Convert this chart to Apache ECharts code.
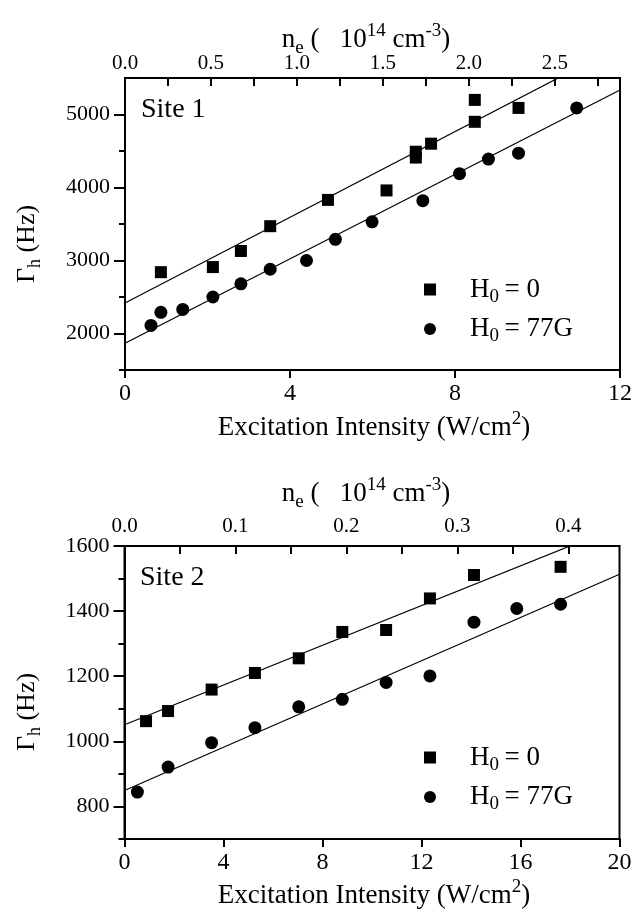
<!DOCTYPE html>
<html><head><meta charset="utf-8">
<script src="https://cdn.jsdelivr.net/npm/echarts@6/dist/echarts.min.js"></script>
<style>html,body{margin:0;padding:0;background:#fff}#c{width:639px;height:912px}</style>
</head><body><div id="c"></div>
<script>
// ---------- Site 1 data (x: excitation intensity W/cm^2, y: Gamma_h Hz) ----------
const s1SquareX = [0.87, 2.13, 2.81, 3.52, 4.92, 6.34, 7.05, 7.05, 7.42, 8.48, 8.48, 9.54];
const s1SquareY = [2840, 2910, 3130, 3470, 3830, 3960, 4490, 4410, 4600, 5200, 4900, 5090];
const s1CircleX = [0.63, 0.87, 1.40, 2.13, 2.81, 3.52, 4.40, 5.10, 5.99, 7.22, 8.11, 8.81, 9.54, 10.95];
const s1CircleY = [2110, 2290, 2330, 2500, 2680, 2880, 3000, 3290, 3530, 3820, 4190, 4390, 4470, 5090];
const s1FitX = [0, 12];
const s1FitSquare = [2417, 5940];
const s1FitCircle = [1867, 5336];

// ---------- Site 2 data ----------
const s2SquareX = [0.87, 1.76, 3.52, 5.27, 7.04, 8.80, 10.57, 12.34, 14.12, 17.62];
const s2SquareY = [1062, 1093, 1159, 1210, 1255, 1336, 1342, 1439, 1511, 1536];
const s2CircleX = [0.52, 1.76, 3.52, 5.27, 7.04, 8.80, 10.57, 12.34, 14.12, 15.85, 17.62];
const s2CircleY = [844, 921, 996, 1042, 1106, 1129, 1181, 1201, 1366, 1408, 1421];
const s2FitX = [0, 20];
const s2FitSquare = [1051, 1661];
const s2FitCircle = [849, 1513];

// ---------- series names ----------
const seriesNames = ['H0 = 0', 'H0 = 77G'];
const siteNames = ['Site 1', 'Site 2'];

// ---------- axis ranges & tick labels ----------
const s1XRange = [0, 12];
const s1XLabels = [0, 4, 8, 12];
const s1YRange = [1500, 5500];
const s1YLabels = [2000, 3000, 4000, 5000];
const s1YMinor = [1500, 2500, 3500, 4500];
const s1TopRange = [0, 2.878];
const s1TopLabels = [0, 0.5, 1.0, 1.5, 2.0, 2.5];
const s1TopTicks = [0, 0.25, 0.5, 0.75, 1.0, 1.25, 1.5, 1.75, 2.0, 2.25, 2.5, 2.75];

const s2XRange = [0, 20];
const s2XLabels = [0, 4, 8, 12, 16, 20];
const s2YRange = [700, 1600];
const s2YLabels = [800, 1000, 1200, 1400, 1600];
const s2YMinor = [700, 900, 1100, 1300, 1500];
const s2TopRange = [0, 0.446];
const s2TopLabels = [0, 0.1, 0.2, 0.3, 0.4];
const s2TopTicks = [0, 0.05, 0.1, 0.15, 0.2, 0.25, 0.3, 0.35, 0.4];

const FONT = "'Liberation Serif', 'Times New Roman', serif";
const zip = (xs, ys) => xs.map((x, i) => [x, ys[i]]);

const chart = echarts.init(document.getElementById('c'), null, {renderer: 'canvas'});

const grids = [
  {left: 125, right: 19, top: 78, height: 292},
  {left: 124.5, right: 19.5, top: 546, height: 293}
];

function bottomAxis(gi, range, labels) {
  return {
    gridIndex: gi, type: 'value', position: 'bottom', min: range[0], max: range[1],
    axisLine: {show: true, onZero: false, lineStyle: {color: '#000', width: 2}},
    axisTick: {show: true, inside: false, length: 8, customValues: labels, lineStyle: {color: '#000', width: 2}},
    axisLabel: {customValues: labels, margin: 12, color: '#000', fontFamily: FONT, fontSize: 24,
      formatter: v => String(v)},
    splitLine: {show: false}
  };
}
function topAxis(gi, range, labels, ticks, margin) {
  return {
    gridIndex: gi, type: 'value', position: 'top', min: range[0], max: range[1],
    axisLine: {show: true, onZero: false, lineStyle: {color: '#000', width: 2}},
    axisTick: {show: true, inside: true, length: 8, customValues: ticks, lineStyle: {color: '#000', width: 2}},
    axisLabel: {customValues: labels, margin: margin, color: '#000', fontFamily: FONT, fontSize: 21,
      formatter: v => v.toFixed(1)},
    splitLine: {show: false}
  };
}
function leftAxisMajor(gi, range, labels) {
  return {
    gridIndex: gi, type: 'value', position: 'left', min: range[0], max: range[1],
    axisLine: {show: true, onZero: false, lineStyle: {color: '#000', width: 2}},
    axisTick: {show: true, inside: false, length: 11, customValues: labels, lineStyle: {color: '#000', width: 2}},
    axisLabel: {customValues: labels, margin: 15, color: '#000', fontFamily: FONT, fontSize: 22,
      formatter: v => String(v)},
    splitLine: {show: false}
  };
}
function leftAxisMinor(gi, range, minor) {
  return {
    gridIndex: gi, type: 'value', position: 'left', min: range[0], max: range[1],
    axisLine: {show: false},
    axisTick: {show: true, inside: false, length: 6, customValues: minor, lineStyle: {color: '#000', width: 2}},
    axisLabel: {show: false},
    splitLine: {show: false}
  };
}

const rich = {
  a: {fontFamily: FONT, fontSize: 27, color: '#000', lineHeight: 34, verticalAlign: 'middle'},
  s: {fontFamily: FONT, fontSize: 19, color: '#000', lineHeight: 34, verticalAlign: 'bottom'}
};
function legendFmt(name) {
  return name === seriesNames[0] ? '{a|H}{s|0}{a|\u2009= 0}' : '{a|H}{s|0}{a|\u2009= 77G}';
}

function scatter(name, xi, yi, xs, ys, sym, size) {
  return {name, type: 'scatter', xAxisIndex: xi, yAxisIndex: yi, data: zip(xs, ys),
    symbol: sym, symbolSize: size, itemStyle: {color: '#000', opacity: 1}, z: 3};
}
function fit(xi, yi, xs, ys) {
  return {type: 'line', xAxisIndex: xi, yAxisIndex: yi, data: zip(xs, ys), symbol: 'none',
    lineStyle: {color: '#000', width: 1.2}, clip: true, silent: true, z: 2};
}

function richTitle(x, y, text, r, rot) {
  return {type: 'text', x, y, rotation: rot || 0,
    style: {text, rich: r, align: 'center', verticalAlign: 'middle', fill: '#000'}};
}
const tRich = {
  b: {fontFamily: FONT, fontSize: 27, color: '#000', lineHeight: 36},
  sub: {fontFamily: FONT, fontSize: 19, color: '#000', lineHeight: 36, verticalAlign: 'bottom'},
  sup: {fontFamily: FONT, fontSize: 19, color: '#000', lineHeight: 36, verticalAlign: 'top'}
};
const yRich = {
  b: {fontFamily: FONT, fontSize: 26, color: '#000', lineHeight: 34},
  sub: {fontFamily: FONT, fontSize: 18, color: '#000', lineHeight: 34, verticalAlign: 'bottom'}
};
const neText = '{b|n}{sub|e}{b| (   10}{sup|14}{b| cm}{sup|-3}{b|)}';
const xText = '{b|Excitation Intensity (W/cm}{sup|2}{b|)}';
const yText = '{b|\u0393}{sub|h}{b| (Hz)}';

const option = {
  backgroundColor: '#fff',
  animation: false,
  grid: grids.map(g => Object.assign({show: true, borderColor: '#000', borderWidth: 2, containLabel: false}, g)),
  xAxis: [
    bottomAxis(0, s1XRange, s1XLabels),
    topAxis(0, s1TopRange, s1TopLabels, s1TopTicks, 4),
    bottomAxis(1, s2XRange, s2XLabels),
    topAxis(1, s2TopRange, s2TopLabels, s2TopTicks, 9)
  ],
  yAxis: [
    leftAxisMajor(0, s1YRange, s1YLabels),
    leftAxisMinor(0, s1YRange, s1YMinor),
    leftAxisMajor(1, s2YRange, s2YLabels),
    leftAxisMinor(1, s2YRange, s2YMinor)
  ],
  legend: [
    {orient: 'vertical', left: 419, top: 271, itemWidth: 12, itemHeight: 12, itemGap: 9,
      data: [{name: seriesNames[0], icon: 'rect'}, {name: seriesNames[1], icon: 'circle'}],
      formatter: legendFmt, textStyle: {rich, padding: [0, 0, 0, 29]}, selectedMode: false},
    {orient: 'vertical', left: 419, top: 739, itemWidth: 12, itemHeight: 12, itemGap: 9,
      data: [{name: seriesNames[0], icon: 'rect'}, {name: seriesNames[1], icon: 'circle'}],
      formatter: legendFmt, textStyle: {rich, padding: [0, 0, 0, 29]}, selectedMode: false}
  ],
  graphic: [
    {type: 'text', left: 141, top: 96, style: {text: siteNames[0], font: '28px ' + FONT, fill: '#000'}},
    {type: 'text', left: 140, top: 564, style: {text: siteNames[1], font: '28px ' + FONT, fill: '#000'}},
    richTitle(366, 40, neText, tRich),
    richTitle(366, 494, neText, tRich),
    richTitle(374, 428, xText, tRich),
    richTitle(374, 896, xText, tRich),
    richTitle(27, 244, yText, yRich, Math.PI / 2),
    richTitle(27, 712, yText, yRich, Math.PI / 2)
  ],
  series: [
    fit(0, 0, s1FitX, s1FitSquare),
    fit(0, 0, s1FitX, s1FitCircle),
    scatter(seriesNames[0], 0, 0, s1SquareX, s1SquareY, 'rect', 12),
    scatter(seriesNames[1], 0, 0, s1CircleX, s1CircleY, 'circle', 13),
    fit(2, 2, s2FitX, s2FitSquare),
    fit(2, 2, s2FitX, s2FitCircle),
    scatter(seriesNames[0], 2, 2, s2SquareX, s2SquareY, 'rect', 12),
    scatter(seriesNames[1], 2, 2, s2CircleX, s2CircleY, 'circle', 13)
  ]
};
chart.setOption(option);
</script>
</body></html>
